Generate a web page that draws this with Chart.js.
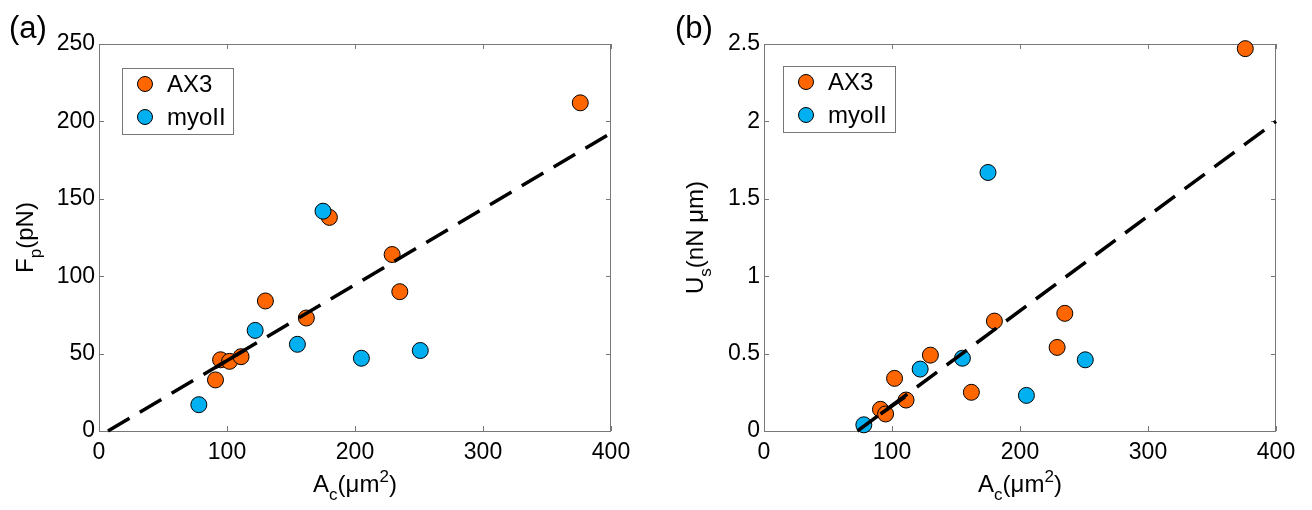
<!DOCTYPE html>
<html><head><meta charset="utf-8">
<script src="https://cdn.jsdelivr.net/npm/chart.js@4/dist/chart.umd.min.js"></script>
<style>
html,body{margin:0;padding:0;background:#fff;}
body{width:1312px;height:510px;overflow:hidden;position:relative;}
.c{position:absolute;top:0;width:656px;height:510px;}
</style></head>
<body>
<div class="c" style="left:0"><canvas id="ca" width="656" height="510"></canvas></div>
<div class="c" style="left:656px"><canvas id="cb" width="656" height="510"></canvas></div>
<script>
// ---- data ----
const ax3Area = [91, 95, 102, 111, 130, 162, 180, 229, 235, 376];
const ax3Fp   = [33, 46, 45, 48, 84, 73, 138, 114, 90, 212];
const ax3Us   = [0.14, 0.11, 0.34, 0.20, 0.49, 0.25, 0.71, 0.54, 0.76, 2.47];
const myoArea = [78, 122, 155, 175, 205, 251];
const myoFp   = [17, 65, 56, 142, 47, 52];
const myoUs   = [0.04, 0.40, 0.47, 1.67, 0.23, 0.46];
// dashed fit lines (end points)
const fitAX = [7, 400];      const fitAY = [0, 192.5];
const fitBX = [73, 400];     const fitBY = [0, 2.0];
// overlapping solid piece of the fit lines near x≈100
const segAX = [91, 114];     const segAY = [41, 52.4];
const segBX = [91, 110];     const segBY = [0.11, 0.22];
const xTicks  = [0, 100, 200, 300, 400];
const fpTicks = [0, 50, 100, 150, 200, 250];
const usTicks = [0, 0.5, 1, 1.5, 2, 2.5];
const seriesNames = ['AX3', 'myoII'];
// --------------------------------------

const ORANGE = '#FF6600', BLUE = '#00B0F0', AXC = '#777777';
const FONT = '"Liberation Sans", Arial, sans-serif';

function pts(xs, ys){ return xs.map((x,i)=>({x:x, y:ys[i]})); }

function drawRich(ctx, parts, size){
  let w = 0;
  const sm = Math.round(size*0.72);
  parts.forEach(p=>{ ctx.font = (p[1]==='n'? size: sm)+'px '+FONT; w += ctx.measureText(p[0]).width; });
  return {w, draw:(x,y)=>{
    let cx = x;
    parts.forEach(p=>{
      const s = p[1]==='n'? size: sm;
      ctx.font = s+'px '+FONT;
      const dy = p[1]==='sub'? size*0.32 : (p[1]==='sup'? -size*0.42 : 0);
      ctx.fillText(p[0], cx, y+dy);
      cx += ctx.measureText(p[0]).width;
    });
  }};
}

const framePlugin = {
  id:'frame',
  beforeDatasetsDraw(chart){
    const {ctx, chartArea:a, scales} = chart;
    ctx.save();
    ctx.strokeStyle = AXC; ctx.lineWidth = 1;
    ctx.strokeRect(a.left+0.5, a.top+0.5, a.right-a.left-1, a.bottom-a.top);
    ctx.beginPath();
    const L = 5;
    scales.x.ticks.forEach(t=>{
      const px = Math.round(scales.x.getPixelForValue(t.value))+0.5;
      ctx.moveTo(px, a.bottom); ctx.lineTo(px, a.bottom-L);
      ctx.moveTo(px, a.top); ctx.lineTo(px, a.top+L);
    });
    scales.y.ticks.forEach(t=>{
      const py = Math.round(scales.y.getPixelForValue(t.value))+0.5;
      ctx.moveTo(a.left, py); ctx.lineTo(a.left+L, py);
      ctx.moveTo(a.right, py); ctx.lineTo(a.right-L, py);
    });
    ctx.stroke();
    ctx.restore();
  },
  afterDraw(chart){
    const o = chart.options.plugins.frame;
    const {ctx, chartArea:a} = chart;
    ctx.save();
    ctx.fillStyle = '#000';
    ctx.textBaseline = 'alphabetic';
    ctx.textAlign = 'left';
    ctx.font = '31px '+FONT;
    ctx.fillText(o.panel, o.panelX, 38);
    const xt = drawRich(ctx, [['A','n'],['c','sub'],['(\u03bcm','n'],['2','sup'],[')','n']], 24);
    xt.draw((a.left+a.right)/2 - xt.w/2, 492);
    const yt = drawRich(ctx, o.yTitle, 24);
    ctx.translate(o.yTitleX, (a.top+a.bottom)/2);
    ctx.rotate(-Math.PI/2);
    yt.draw(-yt.w/2, 0);
    ctx.restore();
    ctx.save();
    const b = o.legendBox;
    ctx.fillStyle = '#fff';
    ctx.fillRect(b[0], b[1], b[2]-b[0], b[3]-b[1]);
    ctx.strokeStyle = AXC; ctx.lineWidth = 1;
    ctx.strokeRect(b[0]+0.5, b[1]+0.5, b[2]-b[0], b[3]-b[1]);
    const cols = [ORANGE, BLUE];
    seriesNames.forEach((n,i)=>{
      const cy = b[1] + 16 + i*33;
      ctx.beginPath();
      ctx.arc(b[0]+23, cy, 7.5, 0, Math.PI*2);
      ctx.fillStyle = cols[i]; ctx.fill();
      ctx.strokeStyle = '#000'; ctx.lineWidth = 1; ctx.stroke();
      ctx.fillStyle = '#000';
      ctx.font = '24px '+FONT;
      ctx.textBaseline = 'alphabetic';
      ctx.fillText(n, b[0]+45, cy+8);
    });
    ctx.restore();
  }
};

function makeChart(id, ax3Y, myoY, fitX, fitY, segX, segY, yTicks, yMax, yW, rightPad, frameOpts, fmt){
  const lineStyle = {type:'scatter', showLine:true, pointRadius:0, borderColor:'#000', borderWidth:3.5, clip:false, order:0};
  return new Chart(document.getElementById(id), {
    type:'scatter',
    data:{datasets:[
      Object.assign({label:'fit', data:pts(fitX, fitY), borderDash:[25,12]}, lineStyle),
      Object.assign({label:'fitseg', data:pts(segX, segY)}, lineStyle),
      {label:seriesNames[1], data:pts(myoArea, myoY), backgroundColor:BLUE, borderColor:'#000', borderWidth:1, pointRadius:8, order:1, clip:false},
      {label:seriesNames[0], data:pts(ax3Area, ax3Y), backgroundColor:ORANGE, borderColor:'#000', borderWidth:1, pointRadius:8, order:2, clip:false}
    ]},
    options:{
      responsive:false, animation:false, devicePixelRatio:1,
      layout:{padding:{left:0, right:rightPad, top:44, bottom:0}},
      plugins:{legend:{display:false}, tooltip:{enabled:false}, frame:frameOpts},
      elements:{point:{hoverRadius:8}},
      scales:{
        x:{type:'linear', min:0, max:400,
           afterBuildTicks:s=>{ s.ticks = xTicks.map(v=>({value:v})); },
           afterFit:s=>{ s.height = 79; },
           grid:{display:false, drawTicks:false}, border:{display:false},
           ticks:{color:'#000', padding:8, font:{family:FONT, size:23}, maxRotation:0}},
        y:{type:'linear', min:0, max:yMax,
           afterBuildTicks:s=>{ s.ticks = yTicks.map(v=>({value:v})); },
           afterFit:s=>{ s.width = yW; },
           grid:{display:false, drawTicks:false}, border:{display:false},
           ticks:{color:'#000', padding:4, font:{family:FONT, size:23}, callback:fmt}}
      }
    },
    plugins:[framePlugin]
  });
}

makeChart('ca', ax3Fp, myoFp, fitAX, fitAY, segAX, segAY, fpTicks, 250, 99, 45,
  {panel:'(a)', panelX:9, yTitleX:33, legendBox:[122,68,233,134],
   yTitle:[['F','n'],['p','sub'],['(pN)','n']]}, v=>String(v));
makeChart('cb', ax3Us, myoUs, fitBX, fitBY, segBX, segBY, usTicks, 2.5, 108, 36,
  {panel:'(b)', panelX:19, yTitleX:47, legendBox:[127,66,239,132],
   yTitle:[['U','n'],['s','sub'],['(nN \u03bcm)','n']]}, v=>String(v));
</script>
</body></html>
